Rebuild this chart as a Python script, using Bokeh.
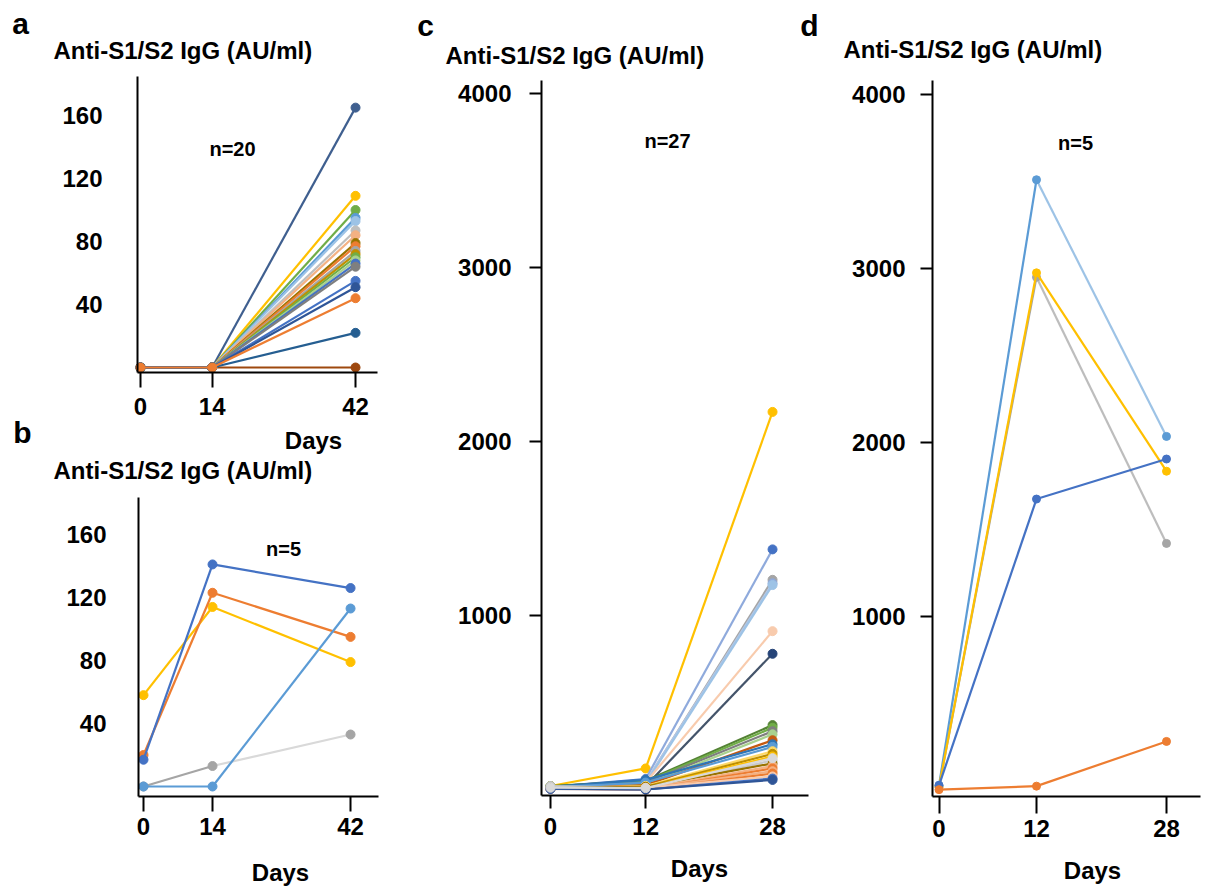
from bokeh.plotting import figure
from bokeh.layouts import row, column
from bokeh.models import Label, FixedTicker, Range1d
from bokeh.embed import file_html
from bokeh.resources import INLINE

FONT = "Liberation Sans"
Y_TITLE = "Anti-S1/S2 IgG (AU/ml)"
X_TITLE = "Days"

# ---------------- data ----------------
# Panel a (n=20): days 0, 14, 42
a_days = [0, 14, 42]
a_d0 = [0, 0, 0, 0, 0, 0, 0, 0, 0, 0, 0, 0, 0, 0, 0, 0, 0, 0, 0, 0]
a_d14 = [0, 0, 0, 0, 0, 0, 0, 0, 0, 0, 0, 0, 0, 0, 0, 0, 0, 0, 0, 0]
a_d42 = [0, 165, 109, 100, 95, 93, 87, 84, 79, 77, 74, 72, 70, 68, 66, 64, 55, 51, 22, 44]
a_colors = ["#9E480E", "#3F5F8F", "#FFC000", "#70AD47", "#5B9BD5", "#9DC3E6",
            "#BFBFBF", "#F4B183", "#997300", "#ED7D31", "#A5A5A5", "#BF9000",
            "#70AD47", "#A9D18E", "#4472C4", "#7F7F7F", "#4472C4", "#2F5597",
            "#255E91", "#ED7D31"]
a_xticks = [0, 14, 42]
a_yticks = [40, 80, 120, 160]

# Panel b (n=5): days 0, 14, 42
b_days = [0, 14, 42]
b_d0 = [0, 58, 20, 17, 0]
b_d14 = [13, 114, 123, 141, 0]
b_d42 = [33, 79, 95, 126, 113]
b_colors = ["#A5A5A5", "#FFC000", "#ED7D31", "#4472C4", "#5B9BD5"]
b_colors_late = ["#D9D9D9", "#FFC000", "#ED7D31", "#4472C4", "#5B9BD5"]
b_xticks = [0, 14, 42]
b_yticks = [40, 80, 120, 160]

# Panel c (n=27): days 0, 12, 28
c_days = [0, 12, 28]
c_d0 = [20, 15, 10, 12, 10, 8, 5, 20, 15, 10, 10, 10, 15, 12, 8, 10, 5, 20, 6, 5, 5, 3, 4, 5, 3, 5, 10]
c_d12 = [121, 60, 40, 45, 35, 40, 20, 50, 45, 40, 30, 25, 55, 40, 20, 15, 10, 10, 15, 5, 0, 5, 0, 10, 0, 0, 8]
c_d28 = [2170, 1380, 1205, 1185, 1175, 910, 780, 370, 355, 335, 317, 283, 260, 245,
         220, 205, 190, 167, 150, 135, 121, 105, 92, 75, 63, 55, 180]
c_colors = ["#FFC000", "#4472C4", "#A5A5A5", "#8FAADC", "#9DC3E6", "#F8CBAD", "#264478",
            "#548235", "#70AD47", "#7F7F7F", "#A9D18E", "#C55A11", "#2E75B6", "#5B9BD5",
            "#FFD966", "#BF9000", "#FFC000", "#C9C9C9", "#997300", "#F4B183", "#ED7D31",
            "#F4B183", "#ED7D31", "#F8CBAD", "#4472C4", "#2F5597", "#D9D9D9"]
c_colors_late = ["#FFC000", "#8FAADC", "#A5A5A5", "#B4C7E7", "#9DC3E6", "#F8CBAD", "#44546A",
                 "#548235", "#70AD47", "#7F7F7F", "#A9D18E", "#C55A11", "#2E75B6", "#5B9BD5",
                 "#FFD966", "#BF9000", "#FFC000", "#C9C9C9", "#997300", "#F4B183", "#ED7D31",
                 "#F4B183", "#ED7D31", "#F8CBAD", "#4472C4", "#2F5597", "#D9D9D9"]
c_xticks = [0, 12, 28]
c_yticks = [1000, 2000, 3000, 4000]

# Panel d (n=5): days 0, 12, 28
d_days = [0, 12, 28]
d_d0 = [20, 29, 20, 30, 5]
d_d12 = [2950, 3510, 2975, 1675, 25]
d_d28 = [1420, 2035, 1835, 1905, 282]
d_colors = ["#A5A5A5", "#5B9BD5", "#FFC000", "#4472C4", "#ED7D31"]
d_colors_late = ["#BDBDBD", "#9DC3E6", "#FFC000", "#4472C4", "#ED7D31"]
d_xticks = [0, 12, 28]
d_yticks = [1000, 2000, 3000, 4000]


# ---------------- helpers ----------------
class Panel:
    """A figure whose frame covers its whole canvas; axes are fixed inside it.
    Geometry is given in page pixels (origin top-left)."""

    def __init__(self, left, top, w, h, x0px, xs, y0px, ys, box,
                 xticks, yticks, xtick_out, ytick_out, xstand, ystand):
        self.x0px, self.xs, self.y0px, self.ys = x0px, xs, y0px, ys
        bl, br, bt, bb = box  # axis box in page px: left, right, top, bottom
        p = figure(width=w, height=h,
                   x_range=Range1d(self.dx(left), self.dx(left + w)),
                   y_range=Range1d(self.dy(top + h), self.dy(top)),
                   output_backend="svg", toolbar_location=None,
                   min_border_left=0, min_border_right=0,
                   min_border_top=0, min_border_bottom=0)
        p.outline_line_color = None
        p.grid.visible = False
        p.background_fill_color = "white"
        p.border_fill_color = "white"
        xa, ya = p.xaxis[0], p.yaxis[0]
        xa.ticker = FixedTicker(ticks=xticks)
        ya.ticker = FixedTicker(ticks=yticks)
        xa.fixed_location = self.dy(bb)
        ya.fixed_location = self.dx(bl)
        xa.bounds = (self.dx(bl), self.dx(br))
        ya.bounds = (self.dy(bb), self.dy(bt))
        for ax in (xa, ya):
            ax.axis_line_width = 2
            ax.axis_line_color = "black"
            ax.major_tick_line_width = 2
            ax.major_tick_line_color = "black"
            ax.major_tick_in = 0
            ax.minor_tick_line_color = None
            ax.major_label_text_font = FONT
            ax.major_label_text_font_style = "bold"
            ax.major_label_text_font_size = "24px"
            ax.major_label_text_color = "black"
        xa.major_tick_out = xtick_out
        ya.major_tick_out = ytick_out
        if ytick_out == 0:
            ya.major_tick_line_color = None
        xa.major_label_standoff = xstand
        ya.major_label_standoff = ystand
        self.p = p

    def dx(self, px):
        return (px - self.x0px) / self.xs

    def dy(self, py):
        return (self.y0px - py) / self.ys

    def text(self, px, py, text, size, align="center"):
        self.p.add_layout(Label(x=self.dx(px), y=self.dy(py), text=text,
                                text_font=FONT, text_font_style="bold",
                                text_font_size=size, text_color="black",
                                text_align=align, text_baseline="middle"))

    def draw(self, days, d0, d1, d2, colors, late_colors, size):
        for i in range(len(colors)):
            self.p.line(days[:2], [d0[i], d1[i]], line_color=colors[i], line_width=2.2)
            self.p.line(days[1:], [d1[i], d2[i]], line_color=late_colors[i], line_width=2.2)
            self.p.scatter(days[:2], [d0[i], d1[i]], size=size, marker="circle",
                           fill_color=colors[i], line_color=colors[i])
            self.p.scatter(days[2:], [d2[i]], size=size, marker="circle",
                           fill_color=colors[i], line_color=colors[i])


# ---------------- panel a ----------------
A = Panel(0, 0, 400, 455, 140, 5.12, 367, 1.575, (137, 377, 76, 372),
          a_xticks, a_yticks, 15, 0, 10, 35)
A.draw(a_days, a_d0, a_d14, a_d42, a_colors, a_colors, 9)
A.text(53, 50, Y_TITLE, "24px", "left")
A.text(20, 23, "a", "30px")
A.text(232, 148, "n=20", "20px")
A.text(313, 440, X_TITLE, "24px")
A.text(22, 432, "b", "30px")

# ---------------- panel b ----------------
B = Panel(0, 455, 400, 431, 143, 4.93, 786, 1.575, (138, 378, 497, 796),
          b_xticks, b_yticks, 15, 0, 6, 32)
B.draw(b_days, b_d0, b_d14, b_d42, b_colors, b_colors_late, 9)
B.text(53, 470, Y_TITLE, "24px", "left")
B.text(283, 548, "n=5", "20px")
B.text(280, 872, X_TITLE, "24px")

# ---------------- panel c ----------------
C = Panel(400, 0, 422, 886, 550, 7.93, 789, 0.174, (541, 808, 80, 795),
          c_xticks, c_yticks, 13, 12, 9, 18)
C.draw(c_days, c_d0, c_d12, c_d28, c_colors, c_colors_late, 9)
C.text(445, 55, Y_TITLE, "24px", "left")
C.text(425, 25, "c", "30px")
C.text(809, 25, "d", "30px")
C.text(667, 140, "n=27", "20px")
C.text(699, 868, X_TITLE, "24px")

# ---------------- panel d ----------------
D = Panel(822, 0, 382, 886, 938.5, 8.125, 790, 0.174, (932, 1200, 80, 796),
          d_xticks, d_yticks, 17, 12, 6, 15)
D.draw(d_days, d_d0, d_d12, d_d28, d_colors, d_colors_late, 8)
D.text(843, 49, Y_TITLE, "24px", "left")
D.text(1075, 142, "n=5", "20px")
D.text(1092, 870, X_TITLE, "24px")

layout = row(column(A.p, B.p), C.p, D.p)
open("out.html", "w").write(file_html(layout, INLINE))
